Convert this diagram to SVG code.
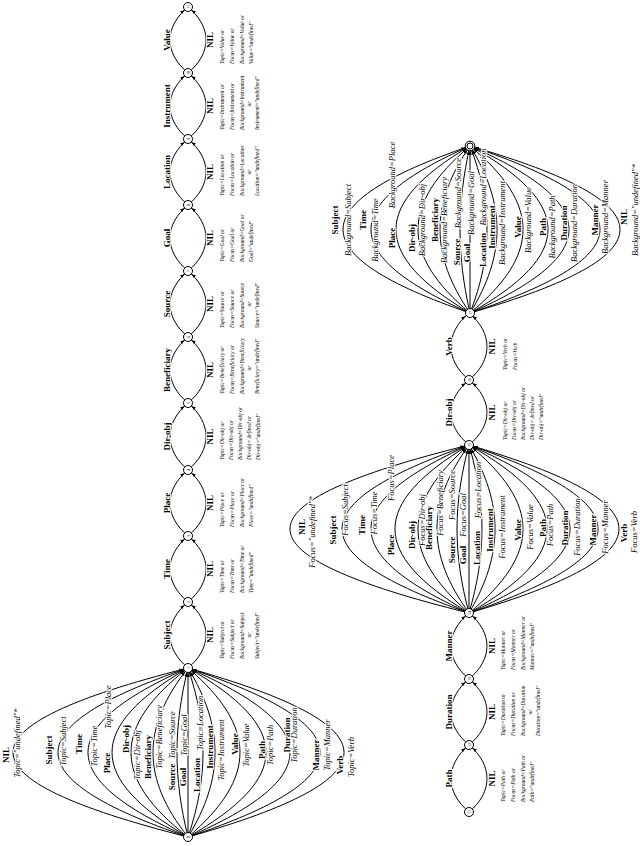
<svg xmlns="http://www.w3.org/2000/svg" width="640" height="846" viewBox="0 0 640 846">
<defs>
<marker id="ah" markerWidth="10" markerHeight="6" refX="9" refY="3" orient="auto" markerUnits="userSpaceOnUse"><path d="M0,1.4 L4.5,3 L0,4.6 z" fill="#000"/></marker>
<style>
.e{fill:none;stroke:#000;stroke-width:1;marker-end:url(#ah)}
.n circle{fill:#fff;stroke:#000;stroke-width:1}
text{font-family:"Liberation Serif","Times New Roman",serif;text-anchor:middle;dominant-baseline:central;fill:#000}
.b{font-weight:bold;font-size:9px}
.i{font-style:italic;font-size:8.5px}
.h{stroke:#fff;stroke-width:2;paint-order:stroke;stroke-linejoin:round}
.a{font-style:italic;font-size:5.5px;text-anchor:start}
.ac{font-style:italic;font-size:5.5px}
.nl{font-size:4.2px}
</style>
</defs>
<rect width="640" height="846" fill="#fff"/>
<g id="connectors">
<!-- fan 1 -->
<path class="e" d="M188,837 C-45.3,778 -45.3,727 188,668"/>
<path class="e" d="M188,837 C14.7,778 14.7,727 188,668"/>
<path class="e" d="M188,837 C54.7,778 54.7,727 188,668"/>
<path class="e" d="M188,837 C86.7,778 86.7,727 188,668"/>
<path class="e" d="M188,837 C112,778 112,727 188,668"/>
<path class="e" d="M188,837 C141.3,778 141.3,727 188,668"/>
<path class="e" d="M188,837 C173.3,778 173.3,727 188,668"/>
<path class="e" d="M188,837 L188,668"/>
<path class="e" d="M188,837 C208,778 208,727 188,668"/>
<path class="e" d="M188,837 C224,778 224,727 188,668"/>
<path class="e" d="M188,837 C257.3,778 257.3,727 188,668"/>
<path class="e" d="M188,837 C292,778 292,727 188,668"/>
<path class="e" d="M188,837 C324,778 324,727 188,668"/>
<path class="e" d="M188,837 C364,778 364,727 188,668"/>
<path class="e" d="M188,837 C396,778 396,727 188,668"/>
<!-- chain 1 lenses -->
<path class="e" d="M188,668 C164,648 164,622 188,602"/><path class="e" d="M188,668 C212,648 212,622 188,602"/>
<path class="e" d="M188,602 C164,582 164,556 188,536"/><path class="e" d="M188,602 C212,582 212,556 188,536"/>
<path class="e" d="M188,536 C164,516 164,490 188,470"/><path class="e" d="M188,536 C212,516 212,490 188,470"/>
<path class="e" d="M188,470 C164,450 164,423 188,403"/><path class="e" d="M188,470 C212,450 212,423 188,403"/>
<path class="e" d="M188,403 C164,383 164,357 188,337"/><path class="e" d="M188,403 C212,383 212,357 188,337"/>
<path class="e" d="M188,337 C164,317 164,291 188,271"/><path class="e" d="M188,337 C212,317 212,291 188,271"/>
<path class="e" d="M188,271 C164,251 164,225 188,205"/><path class="e" d="M188,271 C212,251 212,225 188,205"/>
<path class="e" d="M188,205 C164,185 164,159 188,139"/><path class="e" d="M188,205 C212,185 212,159 188,139"/>
<path class="e" d="M188,139 C164,119 164,93 188,73"/><path class="e" d="M188,139 C212,119 212,93 188,73"/>
<path class="e" d="M188,73 C164,53 164,27 188,7"/><path class="e" d="M188,73 C212,53 212,27 188,7"/>
<!-- chain 2 lenses -->
<path class="e" d="M469,812 C445,792 445,765 469,745"/><path class="e" d="M469,812 C493,792 493,765 469,745"/>
<path class="e" d="M469,745 C445,725 445,699 469,679"/><path class="e" d="M469,745 C493,725 493,699 469,679"/>
<path class="e" d="M469,679 C445,659 445,633 469,613"/><path class="e" d="M469,679 C493,659 493,633 469,613"/>
<!-- fan 2 -->
<path class="e" d="M469,613 C230.3,554 230.3,504 469,445"/>
<path class="e" d="M469,613 C299.7,554 299.7,504 469,445"/>
<path class="e" d="M469,613 C338.3,554 338.3,504 469,445"/>
<path class="e" d="M469,613 C370.3,554 370.3,504 469,445"/>
<path class="e" d="M469,613 C401,554 401,504 469,445"/>
<path class="e" d="M469,613 C426.3,554 426.3,504 469,445"/>
<path class="e" d="M469,613 C453,554 453,504 469,445"/>
<path class="e" d="M469,613 L469,445"/>
<path class="e" d="M469,613 C486.3,554 486.3,504 469,445"/>
<path class="e" d="M469,613 C503.7,554 503.7,504 469,445"/>
<path class="e" d="M469,613 C541,554 541,504 469,445"/>
<path class="e" d="M469,613 C573,554 573,504 469,445"/>
<path class="e" d="M469,613 C603.7,554 603.7,504 469,445"/>
<path class="e" d="M469,613 C641,554 641,504 469,445"/>
<path class="e" d="M469,613 C669,554 669,504 469,445"/>
<path class="e" d="M469,445 C445,425 445,400 469,380"/><path class="e" d="M469,445 C493,425 493,400 469,380"/>
<path class="e" d="M469,380 C445,360 445,333 469,313"/><path class="e" d="M469,380 C493,360 493,333 469,313"/>
<!-- fan 3 -->
<path class="e" d="M470,313 C300.7,255 300.7,204 470,146"/>
<path class="e" d="M470,313 C338,255 338,204 470,146"/>
<path class="e" d="M470,313 C371.3,255 371.3,204 470,146"/>
<path class="e" d="M470,313 C400.7,255 400.7,204 470,146"/>
<path class="e" d="M470,313 C430,255 430,204 470,146"/>
<path class="e" d="M470,313 C456.7,255 456.7,204 470,146"/>
<path class="e" d="M470,313 L470,146"/>
<path class="e" d="M470,313 C492.7,255 492.7,204 470,146"/>
<path class="e" d="M470,313 C506,255 506,204 470,146"/>
<path class="e" d="M470,313 C540.7,255 540.7,204 470,146"/>
<path class="e" d="M470,313 C574,255 574,204 470,146"/>
<path class="e" d="M470,313 C602,255 602,204 470,146"/>
<path class="e" d="M470,313 C643.3,255 643.3,204 470,146"/>
<path class="e" d="M470,313 C670,255 670,204 470,146"/>
</g>
<g id="edge-labels">
<!-- fan 1 -->
<text class="b h" transform="translate(6,755) rotate(-90)">NIL</text>
<text class="i h" transform="translate(17,743) rotate(-90)">Topic="undefined"*</text>
<text class="b h" transform="translate(49,750) rotate(-90)">Subject</text>
<text class="i h" transform="translate(63,741) rotate(-90)">Topic=Subject</text>
<text class="b h" transform="translate(79,744) rotate(-90)">Time</text>
<text class="i h" transform="translate(94,746) rotate(-90)">Topic=Time</text>
<text class="b h" transform="translate(107,763) rotate(-90)">Place</text>
<text class="i h" transform="translate(108,707) rotate(-90)">Topic=Place</text>
<text class="b h" transform="translate(126,739) rotate(-90)">Dir-obj</text>
<text class="i h" transform="translate(137,755) rotate(-90)">Topic=Dir-obj</text>
<text class="b h" transform="translate(148,757) rotate(-90)">Beneficiary</text>
<text class="i h" transform="translate(159,737) rotate(-90)">Topic=Beneficiary</text>
<text class="b h" transform="translate(172,777) rotate(-90)">Source</text>
<text class="i h" transform="translate(172,735) rotate(-90)">Topic=Source</text>
<text class="b h" transform="translate(183,777) rotate(-90)">Goal</text>
<text class="i h" transform="translate(184,735) rotate(-90)">Topic=Goal</text>
<text class="b h" transform="translate(197,775) rotate(-90)">Location</text>
<text class="i h" transform="translate(200,723) rotate(-90)">Topic=Location</text>
<text class="b h" transform="translate(210,747) rotate(-90)">Instrument</text>
<text class="i h" transform="translate(221,750) rotate(-90)">Topic=Instrument</text>
<text class="b h" transform="translate(235,744) rotate(-90)">Value</text>
<text class="i h" transform="translate(246,745) rotate(-90)">Topic=Value</text>
<text class="b h" transform="translate(262,750) rotate(-90)">Path</text>
<text class="i h" transform="translate(270,745) rotate(-90)">Topic=Path</text>
<text class="b h" transform="translate(287,735) rotate(-90)">Duration</text>
<text class="i h" transform="translate(294,735) rotate(-90)">Topic=Duration</text>
<text class="b h" transform="translate(316,755) rotate(-90)">Manner</text>
<text class="i h" transform="translate(327,745) rotate(-90)">Topic=Manner</text>
<text class="b h" transform="translate(340,765) rotate(-90)">Verb</text>
<text class="i h" transform="translate(351,757) rotate(-90)">Topic=Verb</text>
<!-- chain 1 -->
<text class="b h" transform="translate(167,635) rotate(-90)">Subject</text>
<text class="b h" transform="translate(210,635) rotate(-90)">NIL</text>
<text class="b h" transform="translate(167,569) rotate(-90)">Time</text>
<text class="b h" transform="translate(210,569) rotate(-90)">NIL</text>
<text class="b h" transform="translate(167,503) rotate(-90)">Place</text>
<text class="b h" transform="translate(210,503) rotate(-90)">NIL</text>
<text class="b h" transform="translate(167,436.5) rotate(-90)">Dir-obj</text>
<text class="b h" transform="translate(210,436.5) rotate(-90)">NIL</text>
<text class="b h" transform="translate(167,370) rotate(-90)">Beneficiary</text>
<text class="b h" transform="translate(210,370) rotate(-90)">NIL</text>
<text class="b h" transform="translate(167,304) rotate(-90)">Source</text>
<text class="b h" transform="translate(210,304) rotate(-90)">NIL</text>
<text class="b h" transform="translate(167,238) rotate(-90)">Goal</text>
<text class="b h" transform="translate(210,238) rotate(-90)">NIL</text>
<text class="b h" transform="translate(167,172) rotate(-90)">Location</text>
<text class="b h" transform="translate(210,172) rotate(-90)">NIL</text>
<text class="b h" transform="translate(167,106) rotate(-90)">Instrument</text>
<text class="b h" transform="translate(210,106) rotate(-90)">NIL</text>
<text class="b h" transform="translate(167,40) rotate(-90)">Value</text>
<text class="b h" transform="translate(210,40) rotate(-90)">NIL</text>
<!-- chain 2 -->
<text class="b h" transform="translate(449,778.5) rotate(-90)">Path</text>
<text class="b h" transform="translate(492,778.5) rotate(-90)">NIL</text>
<text class="b h" transform="translate(449,712) rotate(-90)">Duration</text>
<text class="b h" transform="translate(492,712) rotate(-90)">NIL</text>
<text class="b h" transform="translate(449,646) rotate(-90)">Manner</text>
<text class="b h" transform="translate(492,646) rotate(-90)">NIL</text>
<text class="b h" transform="translate(449,412.5) rotate(-90)">Dir-obj</text>
<text class="b h" transform="translate(492,412.5) rotate(-90)">NIL</text>
<text class="b h" transform="translate(449,346.5) rotate(-90)">Verb</text>
<text class="b h" transform="translate(492,346.5) rotate(-90)">NIL</text>
<!-- fan 2 -->
<text class="b h" transform="translate(302,527) rotate(-90)">NIL</text>
<text class="i h" transform="translate(312,532) rotate(-90)">Focus="undefined"*</text>
<text class="b h" transform="translate(333,530) rotate(-90)">Subject</text>
<text class="i h" transform="translate(345,510) rotate(-90)">Focus=Subject</text>
<text class="b h" transform="translate(362,525) rotate(-90)">Time</text>
<text class="i h" transform="translate(374,513) rotate(-90)">Focus=Time</text>
<text class="b h" transform="translate(391,545) rotate(-90)">Place</text>
<text class="i h" transform="translate(391,478) rotate(-90)">Focus=Place</text>
<text class="b h" transform="translate(412,535) rotate(-90)">Dir-obj</text>
<text class="i h" transform="translate(422,520) rotate(-90)">Focus=Dir-obj</text>
<text class="b h" transform="translate(429,528) rotate(-90)">Beneficiary</text>
<text class="i h" transform="translate(440,503) rotate(-90)">Focus=Beneficiary</text>
<text class="b h" transform="translate(452,550) rotate(-90)">Source</text>
<text class="i h" transform="translate(452,495) rotate(-90)">Focus=Source</text>
<text class="b h" transform="translate(463,555) rotate(-90)">Goal</text>
<text class="i h" transform="translate(463,515) rotate(-90)">Focus=Goal</text>
<text class="b h" transform="translate(477,548) rotate(-90)">Location</text>
<text class="i h" transform="translate(478,490) rotate(-90)">Focus=Location</text>
<text class="b h" transform="translate(490,530) rotate(-90)">Instrument</text>
<text class="i h" transform="translate(502,527) rotate(-90)">Focus=Instrument</text>
<text class="b h" transform="translate(518,530) rotate(-90)">Value</text>
<text class="i h" transform="translate(530,527) rotate(-90)">Focus=Value</text>
<text class="b h" transform="translate(543,528) rotate(-90)">Path</text>
<text class="i h" transform="translate(550,525) rotate(-90)">Focus=Path</text>
<text class="b h" transform="translate(565,528) rotate(-90)">Duration</text>
<text class="i h" transform="translate(577,527) rotate(-90)">Focus=Duration</text>
<text class="b h" transform="translate(593,530) rotate(-90)">Manner</text>
<text class="i h" transform="translate(605,527) rotate(-90)">Focus=Manner</text>
<text class="b h" transform="translate(624,533) rotate(-90)">Verb</text>
<text class="i h" transform="translate(634,532) rotate(-90)">Focus=Verb</text>
<!-- fan 3 -->
<text class="b h" transform="translate(335,220) rotate(-90)">Subject</text>
<text class="i h" transform="translate(348,220) rotate(-90)">Background=Subject</text>
<text class="b h" transform="translate(363,220) rotate(-90)">Time</text>
<text class="i h" transform="translate(375,230) rotate(-90)">Background=Time</text>
<text class="b h" transform="translate(392,238) rotate(-90)">Place</text>
<text class="i h" transform="translate(392,175) rotate(-90)">Background=Place</text>
<text class="b h" transform="translate(412,238) rotate(-90)">Dir-obj</text>
<text class="i h" transform="translate(422,220) rotate(-90)">Background=Dir-obj</text>
<text class="b h" transform="translate(435,220) rotate(-90)">Beneficiary</text>
<text class="i h" transform="translate(444,220) rotate(-90)">Background=Beneficiary</text>
<text class="b h" transform="translate(457,252) rotate(-90)">Source</text>
<text class="i h" transform="translate(458,193) rotate(-90)">Background=Source</text>
<text class="b h" transform="translate(467,253) rotate(-90)">Goal</text>
<text class="i h" transform="translate(471,203) rotate(-90)">Background=Goal</text>
<text class="b h" transform="translate(483,250) rotate(-90)">Location</text>
<text class="i h" transform="translate(483,187) rotate(-90)">Background=Location</text>
<text class="b h" transform="translate(492,227) rotate(-90)">Instrument</text>
<text class="i h" transform="translate(502,223) rotate(-90)">Background=Instrument</text>
<text class="b h" transform="translate(518,227) rotate(-90)">Value</text>
<text class="i h" transform="translate(528,220) rotate(-90)">Background=Value</text>
<text class="b h" transform="translate(543,227) rotate(-90)">Path</text>
<text class="i h" transform="translate(552,227) rotate(-90)">Background=Path</text>
<text class="b h" transform="translate(564,223) rotate(-90)">Duration</text>
<text class="i h" transform="translate(574,223) rotate(-90)">Background=Duration</text>
<text class="b h" transform="translate(595,220) rotate(-90)">Manner</text>
<text class="i h" transform="translate(605,217) rotate(-90)">Background=Manner</text>
<text class="b h" transform="translate(624,217) rotate(-90)">NIL</text>
<text class="i h" transform="translate(635,210) rotate(-90)">Background="undefined"*</text>
</g>
<g id="annotations">
<!-- chain 1 -->
<text class="a" transform="translate(222,659) rotate(-90)">Topic=Subject or</text>
<text class="a" transform="translate(232,659) rotate(-90)">Focus=Subject or</text>
<text class="a" transform="translate(242,659) rotate(-90)">Background=Subject</text>
<text class="ac" transform="translate(249,635) rotate(-90)">or</text>
<text class="a" transform="translate(257,659) rotate(-90)">Subject="undefined"</text>

<text class="a" transform="translate(222,593) rotate(-90)">Topic=Time or</text>
<text class="a" transform="translate(232,593) rotate(-90)">Focus=Time or</text>
<text class="a" transform="translate(242,593) rotate(-90)">Background=Time or</text>
<text class="a" transform="translate(251,593) rotate(-90)">Time="undefined"</text>

<text class="a" transform="translate(222,527) rotate(-90)">Topic=Place or</text>
<text class="a" transform="translate(232,527) rotate(-90)">Focus=Place or</text>
<text class="a" transform="translate(242,527) rotate(-90)">Background=Place or</text>
<text class="a" transform="translate(251,527) rotate(-90)">Place="undefined"</text>

<text class="a" transform="translate(222,460) rotate(-90)">Topic=Dir-obj or</text>
<text class="a" transform="translate(231,460) rotate(-90)">Focus=Dir-obj or</text>
<text class="a" transform="translate(240,460) rotate(-90)">Background=Dir-obj or</text>
<text class="a" transform="translate(249,460) rotate(-90)">Dir-obj= defined or</text>
<text class="a" transform="translate(258,460) rotate(-90)">Dir-obj="undefined"</text>

<text class="a" transform="translate(222,394) rotate(-90)">Topic=Beneficiary or</text>
<text class="a" transform="translate(232,394) rotate(-90)">Focus=Beneficiary or</text>
<text class="a" transform="translate(242,394) rotate(-90)">Background=Beneficiary</text>
<text class="ac" transform="translate(249,368) rotate(-90)">or</text>
<text class="a" transform="translate(257,394) rotate(-90)">Beneficiary="undefined"</text>

<text class="a" transform="translate(222,328) rotate(-90)">Topic=Source or</text>
<text class="a" transform="translate(232,328) rotate(-90)">Focus=Source or</text>
<text class="a" transform="translate(242,328) rotate(-90)">Background=Source</text>
<text class="ac" transform="translate(249,304) rotate(-90)">or</text>
<text class="a" transform="translate(257,328) rotate(-90)">Source="undefined"</text>

<text class="a" transform="translate(222,262) rotate(-90)">Topic=Goal or</text>
<text class="a" transform="translate(232,262) rotate(-90)">Focus=Goal or</text>
<text class="a" transform="translate(242,262) rotate(-90)">Background=Goal or</text>
<text class="a" transform="translate(251,262) rotate(-90)">Goal="undefined"</text>

<text class="a" transform="translate(222,196) rotate(-90)">Topic=Location or</text>
<text class="a" transform="translate(232,196) rotate(-90)">Focus=Location or</text>
<text class="a" transform="translate(242,196) rotate(-90)">Background=Location</text>
<text class="ac" transform="translate(249,172) rotate(-90)">or</text>
<text class="a" transform="translate(257,196) rotate(-90)">Location="undefined"</text>

<text class="a" transform="translate(222,130) rotate(-90)">Topic=Instrument or</text>
<text class="a" transform="translate(232,130) rotate(-90)">Focus=Instrument or</text>
<text class="a" transform="translate(242,130) rotate(-90)">Background=Instrument</text>
<text class="ac" transform="translate(249,104) rotate(-90)">or</text>
<text class="a" transform="translate(257,130) rotate(-90)">Instrument="undefined"</text>

<text class="a" transform="translate(222,64) rotate(-90)">Topic=Value or</text>
<text class="a" transform="translate(232,64) rotate(-90)">Focus=Value or</text>
<text class="a" transform="translate(242,64) rotate(-90)">Background=Value or</text>
<text class="a" transform="translate(251,64) rotate(-90)">Value="undefined"</text>
<!-- chain 2 -->
<text class="a" transform="translate(503,802) rotate(-90)">Topic=Path or</text>
<text class="a" transform="translate(513,802) rotate(-90)">Focus=Path or</text>
<text class="a" transform="translate(523,802) rotate(-90)">Background=Path or</text>
<text class="a" transform="translate(532,802) rotate(-90)">Path="undefined"</text>

<text class="a" transform="translate(503,736) rotate(-90)">Topic=Duration or</text>
<text class="a" transform="translate(513,736) rotate(-90)">Focus=Duration or</text>
<text class="a" transform="translate(523,736) rotate(-90)">Background=Duration</text>
<text class="ac" transform="translate(530,712) rotate(-90)">or</text>
<text class="a" transform="translate(538,736) rotate(-90)">Duration="undefined"</text>

<text class="a" transform="translate(503,670) rotate(-90)">Topic=Manner or</text>
<text class="a" transform="translate(513,670) rotate(-90)">Focus=Manner or</text>
<text class="a" transform="translate(523,670) rotate(-90)">Background=Manner or</text>
<text class="a" transform="translate(532,670) rotate(-90)">Manner="undefined"</text>

<text class="a" transform="translate(505,440) rotate(-90)">Topic=Dir-obj or</text>
<text class="a" transform="translate(514,440) rotate(-90)">Focus=Dir-obj or</text>
<text class="a" transform="translate(523,440) rotate(-90)">Background=Dir-obj or</text>
<text class="a" transform="translate(532,440) rotate(-90)">Dir-obj= defined or</text>
<text class="a" transform="translate(541,440) rotate(-90)">Dir-obj="undefined"</text>

<text class="a" transform="translate(505,370) rotate(-90)">Topic=Verb or</text>
<text class="a" transform="translate(515,370) rotate(-90)">Focus=Verb</text>
</g>
<g id="node-0" class="n"><circle cx="188" cy="837" r="4.5"/><text class="nl" transform="translate(188,837) rotate(-90)">0</text></g>
<g id="node-1" class="n"><circle cx="188" cy="668" r="4.5"/><text class="nl" transform="translate(188,668) rotate(-90)">1</text></g>
<g id="node-2" class="n"><circle cx="188" cy="602" r="4.5"/><text class="nl" transform="translate(188,602) rotate(-90)">2</text></g>
<g id="node-3" class="n"><circle cx="188" cy="536" r="4.5"/><text class="nl" transform="translate(188,536) rotate(-90)">3</text></g>
<g id="node-4" class="n"><circle cx="188" cy="470" r="4.5"/><text class="nl" transform="translate(188,470) rotate(-90)">4</text></g>
<g id="node-5" class="n"><circle cx="188" cy="403" r="4.5"/><text class="nl" transform="translate(188,403) rotate(-90)">5</text></g>
<g id="node-6" class="n"><circle cx="188" cy="337" r="4.5"/><text class="nl" transform="translate(188,337) rotate(-90)">6</text></g>
<g id="node-7" class="n"><circle cx="188" cy="271" r="4.5"/><text class="nl" transform="translate(188,271) rotate(-90)">7</text></g>
<g id="node-8" class="n"><circle cx="188" cy="205" r="4.5"/><text class="nl" transform="translate(188,205) rotate(-90)">8</text></g>
<g id="node-9" class="n"><circle cx="188" cy="139" r="4.5"/><text class="nl" transform="translate(188,139) rotate(-90)">9</text></g>
<g id="node-10" class="n"><circle cx="188" cy="73" r="4.5"/><text class="nl" transform="translate(188,73) rotate(-90)">10</text></g>
<g id="node-11" class="n"><circle cx="188" cy="7" r="4.5"/><text class="nl" transform="translate(188,7) rotate(-90)">11</text></g>
<g id="node-11b" class="n"><circle cx="469" cy="812" r="4.5"/><text class="nl" transform="translate(469,812) rotate(-90)">11</text></g>
<g id="node-12" class="n"><circle cx="469" cy="745" r="4.5"/><text class="nl" transform="translate(469,745) rotate(-90)">12</text></g>
<g id="node-13" class="n"><circle cx="469" cy="679" r="4.5"/><text class="nl" transform="translate(469,679) rotate(-90)">13</text></g>
<g id="node-14" class="n"><circle cx="469" cy="613" r="4.5"/><text class="nl" transform="translate(469,613) rotate(-90)">14</text></g>
<g id="node-15" class="n"><circle cx="469" cy="445" r="4.5"/><text class="nl" transform="translate(469,445) rotate(-90)">15</text></g>
<g id="node-16" class="n"><circle cx="469" cy="380" r="4.5"/><text class="nl" transform="translate(469,380) rotate(-90)">16</text></g>
<g id="node-17" class="n"><circle cx="470" cy="313" r="4.5"/><text class="nl" transform="translate(470,313) rotate(-90)">17</text></g>
<g id="node-18" class="n"><circle cx="470" cy="146" r="4.8"/><circle cx="470" cy="146" r="3"/></g>
</svg>
